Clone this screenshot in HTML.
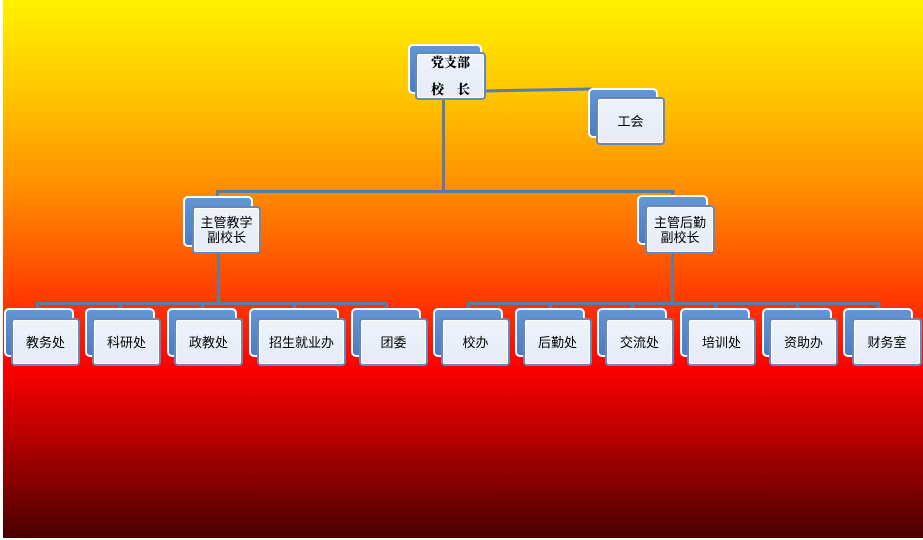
<!DOCTYPE html>
<html><head><meta charset="utf-8">
<style>
html,body{margin:0;padding:0;}
body{width:923px;height:540px;position:relative;overflow:hidden;background:#fff;
font-family:"Liberation Sans","Noto Sans CJK SC",sans-serif;}
.bg{position:absolute;left:3px;top:0;width:920px;height:538px;
background:linear-gradient(to bottom,#fff200 0%,#ffc400 18%,#ff8a00 36%,#ff4a00 52%,#ff0000 68%,#b20000 82%,#480000 100%);}
.l{position:absolute;background:#5b7ca6;}
.b{position:absolute;box-sizing:border-box;border:2px solid #fff;border-radius:5px;
background:linear-gradient(to bottom,#6396d6,#4a7cc0);}
.f{position:absolute;box-sizing:border-box;border:2px solid #6688bd;border-radius:4px;
background:linear-gradient(to bottom,#eef3fb,#e6edf8 85%,#f6e6ec);box-shadow:inset 0 0 0 1px #fff;
display:flex;align-items:center;justify-content:center;text-align:center;
font-size:13px;line-height:15px;color:#000;}
.top{font-family:"Liberation Serif","Noto Serif CJK SC",serif;font-weight:900;font-size:13px;line-height:27px;}
</style></head><body>
<div class="bg"></div>

<!-- connectors -->
<div class="l" style="left:442px;top:98px;width:3px;height:95px;"></div>
<div class="l" style="left:216px;top:190px;width:459px;height:3px;"></div>
<div class="l" style="left:216px;top:190px;width:3px;height:10px;"></div>
<div class="l" style="left:671px;top:190px;width:3px;height:10px;"></div>
<svg style="position:absolute;left:0;top:0" width="923" height="540"><line x1="484" y1="91" x2="592" y2="89" stroke="#5b7ca6" stroke-width="3"/></svg>
<div class="l" style="left:217px;top:252px;width:3px;height:52px;"></div>
<div class="l" style="left:671px;top:252px;width:3px;height:52px;"></div>
<div class="l" style="left:36px;top:302px;width:352px;height:3px;"></div>
<div class="l" style="left:467px;top:302px;width:413px;height:3px;"></div>
<div class="l" style="left:36px;top:302px;width:3px;height:8px;"></div>
<div class="l" style="left:119px;top:302px;width:3px;height:8px;"></div>
<div class="l" style="left:201px;top:302px;width:3px;height:8px;"></div>
<div class="l" style="left:293px;top:302px;width:3px;height:8px;"></div>
<div class="l" style="left:385px;top:302px;width:3px;height:8px;"></div>
<div class="l" style="left:467px;top:302px;width:3px;height:8px;"></div>
<div class="l" style="left:549px;top:302px;width:3px;height:8px;"></div>
<div class="l" style="left:631px;top:302px;width:3px;height:8px;"></div>
<div class="l" style="left:714px;top:302px;width:3px;height:8px;"></div>
<div class="l" style="left:796px;top:302px;width:3px;height:8px;"></div>
<div class="l" style="left:877px;top:302px;width:3px;height:8px;"></div>

<!-- top -->
<div class="b" style="left:408px;top:44px;width:74px;height:50px;"></div>
<div class="f top" style="left:415px;top:52px;width:71px;height:48px;">党支部<br>校&nbsp;&nbsp;&nbsp;&nbsp;长</div>

<div class="b" style="left:588px;top:88px;width:70px;height:50px;"></div>
<div class="f" style="left:596px;top:97px;width:69px;height:48px;">工会</div>

<!-- level 2 -->
<div class="b" style="left:183px;top:196px;width:70px;height:51px;"></div>
<div class="f" style="left:192px;top:206px;width:69px;height:48px;">主管教学<br>副校长</div>

<div class="b" style="left:637px;top:195px;width:71px;height:50px;"></div>
<div class="f" style="left:645px;top:205px;width:70px;height:49px;">主管后勤<br>副校长</div>

<!-- level 3 -->
<div class="b" style="left:4px;top:308px;width:70px;height:49px;"></div>
<div class="f" style="left:11px;top:318px;width:69px;height:48px;">教务处</div>

<div class="b" style="left:85px;top:308px;width:70px;height:49px;"></div>
<div class="f" style="left:92px;top:318px;width:69px;height:48px;">科研处</div>

<div class="b" style="left:167px;top:308px;width:70px;height:49px;"></div>
<div class="f" style="left:174px;top:318px;width:69px;height:48px;">政教处</div>

<div class="b" style="left:249px;top:308px;width:90px;height:49px;"></div>
<div class="f" style="left:257px;top:318px;width:89px;height:48px;">招生就业办</div>

<div class="b" style="left:351px;top:308px;width:70px;height:49px;"></div>
<div class="f" style="left:359px;top:318px;width:69px;height:48px;">团委</div>

<div class="b" style="left:433px;top:308px;width:70px;height:49px;"></div>
<div class="f" style="left:441px;top:318px;width:69px;height:48px;">校办</div>

<div class="b" style="left:515px;top:308px;width:70px;height:49px;"></div>
<div class="f" style="left:523px;top:318px;width:69px;height:48px;">后勤处</div>

<div class="b" style="left:597px;top:308px;width:70px;height:49px;"></div>
<div class="f" style="left:605px;top:318px;width:69px;height:48px;">交流处</div>

<div class="b" style="left:680px;top:308px;width:70px;height:49px;"></div>
<div class="f" style="left:687px;top:318px;width:69px;height:48px;">培训处</div>

<div class="b" style="left:762px;top:308px;width:70px;height:49px;"></div>
<div class="f" style="left:769px;top:318px;width:69px;height:48px;">资助办</div>

<div class="b" style="left:843px;top:308px;width:70px;height:49px;"></div>
<div class="f" style="left:852px;top:318px;width:70px;height:48px;">财务室</div>
</body></html>
